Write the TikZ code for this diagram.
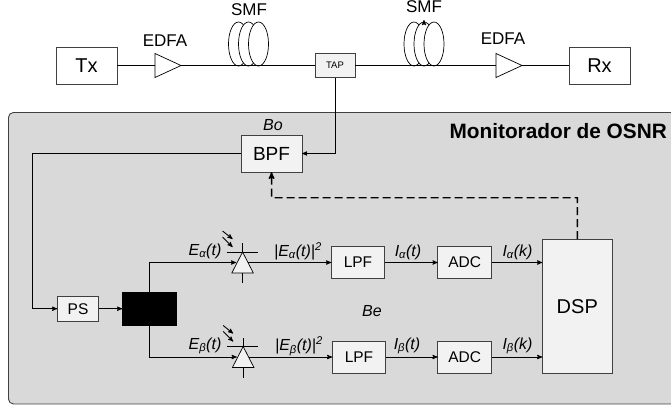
\documentclass[tikz,border=0pt]{standalone}
\usepackage{fontspec}
\setmainfont{Liberation Sans}
\usetikzlibrary{arrows,shapes,positioning,calc}
\definecolor{panel-gray}{HTML}{D9D9D9}
\definecolor{box-gray}{HTML}{F2F2F2}
\definecolor{edge-gray}{HTML}{404040}
\newcommand{\fsz}[1]{\fontsize{#1}{#1}\selectfont}
\newcommand{\siglabel}[3]{\textit{#1\textsubscript{#2}(#3)}}
\tikzset{
    small-box/.style={
        rectangle,
        draw=edge-gray,
        fill=box-gray,
        line width=0.9pt,
        inner sep=0pt,
        outer sep=0pt,
        font=\fsz{15.5}
    },
    end-box/.style={
        rectangle,
        draw=edge-gray,
        line width=0.9pt,
        inner sep=0pt,
        outer sep=0pt,
        minimum width=61pt,
        minimum height=37pt,
        font=\fsz{20}
    },
    amp/.style={
        isosceles triangle,
        isosceles triangle stretches,
        draw=black,
        fill=white,
        line width=0.7pt,
        inner sep=0pt,
        outer sep=0pt,
        minimum width=24pt,
        minimum height=26pt
    },
    diode/.style={
        isosceles triangle,
        isosceles triangle stretches,
        shape border rotate=90,
        draw=black,
        fill=box-gray,
        line width=0.7pt,
        inner sep=0pt,
        outer sep=0pt,
        minimum width=21.5pt,
        minimum height=21pt
    },
    coil/.style={
        ellipse,
        draw=black,
        fill=white,
        line width=0.7pt,
        inner sep=0pt,
        outer sep=0pt,
        minimum width=20pt,
        minimum height=44pt
    },
    txt/.style={font=\fsz{17}, inner sep=0pt},
    sig/.style={font=\fsz{16}, inner sep=0pt},
    every edge/.style={
        draw,
        -,>=stealth',
        line width=0.9pt
    },
    >=stealth',
}
\begin{document}
\begin{tikzpicture}[x=1pt,y=-1pt]
    \useasboundingbox (0,0) rectangle (671,405);
    % panel
    \node[rectangle, rounded corners=5pt, draw=edge-gray, fill=panel-gray, line width=0.9pt,
          minimum width=675pt, minimum height=291.5pt, anchor=north west] (panel) at (8,112) {};
    \node[anchor=east, inner sep=0pt, font=\fsz{20.8}\bfseries] (title) at (667,131) {Monitorador de OSNR};

    % link
    \node[end-box] (tx) at (86.5,65.5) {Tx};
    \node[amp, right=38pt of tx] (a1) {};
    \node[small-box, minimum width=40pt, minimum height=24pt, font=\fsz{9.5}] (tap) at (335,65.5) {TAP};
    \node[amp, right=141pt of tap] (a2) {};
    \node[end-box, right=47pt of a2] (rx) {Rx};
    \node[coil] (c1) at (238.5,44) {};
    \node[coil, right=-10pt of c1] (c2) {};
    \node[coil, right=-10pt of c2] (c3) {};
    \node[coil] (c4) at (414,44) {};
    \node[coil, right=-10pt of c4] (c5) {};
    \node[coil, right=-10pt of c5] (c6) {};
    \node[txt] (edfa1) at (165,41) {EDFA};
    \node[txt] (edfa2) at (503,39) {EDFA};
    \node[txt] (smf1) at (249,10) {SMF};
    \node[txt] (smf2) at (424,7) {SMF};

    \draw (tx.east) edge (a1.west);
    \draw (a1.east) edge (tap.west);
    \draw (tap.east) edge (a2.west);
    \draw (a2.east) edge (rx.west);
    \draw (c5.north) edge[->] ([yshift=2pt]c5.north);

    % monitor blocks
    \node[small-box, minimum width=61pt, minimum height=37pt, font=\fsz{19}] (bpf) at (271.5,153.5) {BPF};
    \node[sig] (bo) at (273,125) {\textit{Bo}};
    \node[small-box, minimum width=41.5pt, minimum height=25pt] (ps) at (78,308.7) {PS};
    \node[rectangle, fill=black, inner sep=0pt, outer sep=0pt, minimum width=55pt, minimum height=34pt,
          right=23.5pt of ps] (pbs) {};
    \node[diode, anchor=left side] (d1) at (237.2,262.5) {};
    \node[diode, anchor=left side] (d2) at (237.8,357) {};
    \node[small-box, minimum width=53.5pt, minimum height=32pt] (lpf1) at (358,262.5) {LPF};
    \node[small-box, minimum width=53.5pt, minimum height=32pt] (lpf2) at (359,357) {LPF};
    \node[small-box, minimum width=54pt, minimum height=32pt] (adc1) at (464.7,262.5) {ADC};
    \node[small-box, minimum width=54pt, minimum height=32pt] (adc2) at (464.7,357) {ADC};
    \node[small-box, minimum width=70pt, minimum height=134.5pt, font=\fsz{20}] (dsp) at (577.3,306.3) {DSP};
    \coordinate (dsp1) at (dsp.west |- lpf1);
    \coordinate (dsp2) at (dsp.west |- lpf2);
    \node[sig] (be) at (372,310.7) {\textit{Be}};

    \node[sig] (ea) at (205,251) {\siglabel{E}{α}{t}};
    \node[sig] (eb) at (205,346) {\siglabel{E}{β}{t}};
    \node[sig] (ea2) at (298,251) {\textit{|E\textsubscript{α}(t)|\textsuperscript{2}}};
    \node[sig] (eb2) at (299,346) {\textit{|E\textsubscript{β}(t)|\textsuperscript{2}}};
    \node[sig] (ia) at (408,252) {\siglabel{I}{α}{t}};
    \node[sig] (ib) at (407,346) {\siglabel{I}{β}{t}};
    \node[sig] (ika) at (517.5,252) {\siglabel{I}{α}{k}};
    \node[sig] (ikb) at (517.5,346) {\siglabel{I}{β}{k}};

    % monitor wiring
    \draw[->, line width=0.9pt] (tap.south) |- (bpf.east);
    \draw[->, line width=0.9pt] (bpf.west) -| (32.5,308.7) -- (ps.west);
    \draw (ps.east) edge[->] (pbs.west);
    \draw[->, line width=0.9pt, shorten >=1pt] (pbs.north) |- (d1.left side);
    \draw[->, line width=0.9pt, shorten >=1pt] (pbs.south) |- (d2.left side);
    \draw (d1.right side) edge[->] (lpf1.west);
    \draw (d2.right side) edge[->] (lpf2.west);
    \draw (lpf1.east) edge[->] (adc1.west);
    \draw (lpf2.east) edge[->] (adc2.west);
    \draw (adc1.east) edge[->] (dsp1);
    \draw (adc2.east) edge[->] (dsp2);
    \draw[->, line width=1.4pt, dashed, dash pattern=on 8pt off 4pt] (dsp.north) |- (271.7,197.7) -- (bpf.south);

    \foreach \d in {d1,d2} {
        \draw ([xshift=-16pt]\d.apex) edge ([xshift=15pt]\d.apex);
        \draw (\d.apex) edge ([yshift=9pt]\d.apex);
        \draw (\d.lower side) edge ([yshift=-10pt]\d.lower side);
        \draw ([shift={(-20pt,21pt)}]\d.apex) edge[->] ([shift={(-10pt,13pt)}]\d.apex);
        \draw ([shift={(-20pt,15pt)}]\d.apex) edge[->] ([shift={(-10pt,5pt)}]\d.apex);
    }
\end{tikzpicture}
\end{document}
